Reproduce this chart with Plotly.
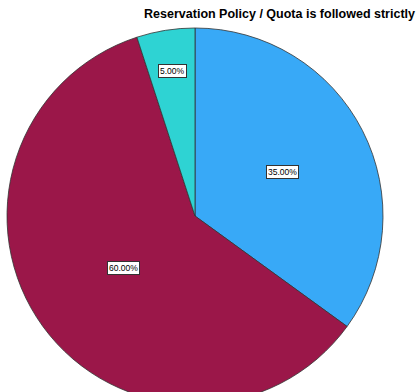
import math
import plotly.graph_objects as go

categories = ["Agree", "Strongly Agree", "Neutral"]
values = [35, 60, 5]
label_texts = ["35.00%", "60.00%", "5.00%"]
colors = ["#38a9f7", "#9b1749", "#2ed3d3"]
title_text = "Reservation Policy / Quota is followed strictly"

W, H = 417, 410
cx, cy, R = 195, 216, 188  # pixel geometry of pie
label_radius = [0.52, 0.47, 0.78]

fig = go.Figure(go.Pie(
    labels=categories,
    values=values,
    sort=False,
    direction="clockwise",
    rotation=0,
    marker=dict(colors=colors, line=dict(color="#333333", width=0.8)),
    textinfo="none",
    hoverinfo="label+percent",
    showlegend=False,
    domain=dict(x=[(cx - R) / W, (cx + R) / W], y=[1 - (cy + R) / H, 1 - (cy - R) / H]),
))

total = sum(values)
cum = 0
annotations = []
for v, t, rf in zip(values, label_texts, label_radius):
    mid = (cum + v / 2) / total * 2 * math.pi
    cum += v
    px = cx + rf * R * math.sin(mid)
    py = cy - rf * R * math.cos(mid)
    annotations.append(dict(
        x=px / W, y=1 - py / H, xref="paper", yref="paper",
        xanchor="center", yanchor="middle",
        text=t, showarrow=False,
        font=dict(family="Arial, Liberation Sans", size=8.5, color="black"),
        bgcolor="white", bordercolor="#333333", borderwidth=1, borderpad=1,
    ))

fig.update_layout(
    width=W, height=H,
    margin=dict(l=0, r=0, t=0, b=0),
    paper_bgcolor="white",
    title=dict(text="<b>" + title_text + "</b>", x=415 / W, xanchor="right",
               y=1 - 14 / H, yanchor="middle",
               font=dict(family="Arial, Liberation Sans", size=12.5, color="black")),
    annotations=annotations,
)

fig.write_html("out.html", config={"displayModeBar": False},
               post_script="document.body.style.margin='0';document.body.style.overflow='hidden';")
